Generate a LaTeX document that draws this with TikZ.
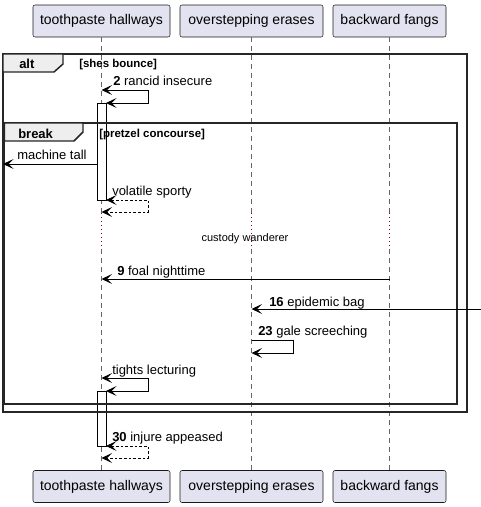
\documentclass[tikz,border=0pt]{standalone}
\usepackage{fontspec}
\setmainfont{Liberation Sans}
\usepackage{xcolor}
\usetikzlibrary{arrows.meta}

\definecolor{partfill}{RGB}{226,226,240}
\definecolor{tabfill}{RGB}{238,238,238}
\definecolor{delayred}{RGB}{130,0,60}

\begin{document}
\begin{tikzpicture}[x=0.75pt, y=-0.75pt,
    >={Stealth[length=8pt,width=7.5pt,inset=3.75pt]},
    part/.style={draw=black!90, fill=partfill, rounded corners=1.5pt, line width=0.4pt,
                 minimum height=24pt, inner sep=0pt, font=\fontsize{10.5}{12}\selectfont},
    life/.style={draw=black!60, line width=0.5pt, dash pattern=on 3.75pt off 3pt},
    delay/.style={draw=delayred, line width=0.7pt, dash pattern=on 0.75pt off 2.25pt},
    frame/.style={draw=black!85, line width=1.1pt},
    tab/.style={draw=black!85, fill=tabfill, line width=1.1pt},
    act/.style={draw=black, fill=white, line width=0.6pt},
    msg/.style={draw=black, line width=0.75pt},
    ret/.style={draw=black, line width=0.6pt, dash pattern=on 2pt off 1.5pt},
    lbl/.style={anchor=base west, inner sep=0pt, font=\fontsize{9.75}{11}\selectfont},
    hdr/.style={anchor=base west, inner sep=0pt, font=\fontsize{9.75}{11}\selectfont\bfseries},
    guard/.style={anchor=base west, inner sep=0pt, font=\fontsize{8.6}{10}\selectfont\bfseries},
    note/.style={anchor=base, inner sep=0pt, font=\fontsize{8.25}{10}\selectfont}]
  \useasboundingbox (0,0) rectangle (481,507);

  % participants
  \node[part, minimum width=102.75pt] (thTop) at (101.5,21) {toothpaste hallways};
  \node[part, minimum width=107.25pt] (ovTop) at (251.5,21) {overstepping erases};
  \node[part, minimum width=84.75pt] (bfTop) at (389.5,21) {backward fangs};
  \node[part, minimum width=102.75pt] (thBot) at (101.5,486.5) {toothpaste hallways};
  \node[part, minimum width=107.25pt] (ovBot) at (251.5,486.5) {overstepping erases};
  \node[part, minimum width=84.75pt] (bfBot) at (389.5,486.5) {backward fangs};

  % lifelines, with the delay
  \coordinate (thD1) at (101.5,213);
  \coordinate (thD2) at (101.5,249);
  \coordinate (ovD1) at (251.5,213);
  \coordinate (ovD2) at (251.5,249);
  \coordinate (bfD1) at (389.5,213);
  \coordinate (bfD2) at (389.5,249);
  \draw[life] (thTop) -- (thD1);
  \draw[delay] (thD1) -- (thD2);
  \draw[life] (thD2) -- (thBot);
  \draw[life] (ovTop) -- (ovD1);
  \draw[delay] (ovD1) -- (ovD2);
  \draw[life] (ovD2) -- (ovBot);
  \draw[life] (bfTop) -- (bfD1);
  \draw[delay] (bfD1) -- (bfD2);
  \draw[life] (bfD2) -- (bfBot);
  \node[note] (wait) at (245,241) {custody wanderer};

  % activations
  \node[act, minimum width=6.75pt, minimum height=72.75pt, inner sep=0pt] (actA) at (101.5,151.5) {};
  \node[act, minimum width=6.75pt, minimum height=41.25pt, inner sep=0pt] (actB) at (101.5,418.5) {};

  % alt and break
  \draw[frame] (3,54) rectangle (467,412);
  \draw[tab] (3,54) -- (63,54) -- (63,64) -- (54,72) -- (3,72) -- cycle;
  \node[hdr] (altHdr) at (19,68) {alt};
  \node[guard] (altGuard) at (79,67) {[shes bounce]};
  \draw[frame] (4.5,123) rectangle (457,404);
  \draw[tab] (4.5,123) -- (83,123) -- (83,132) -- (74,141) -- (4.5,141) -- cycle;
  \node[hdr] (brkHdr) at (18,138) {break};
  \node[guard] (brkGuard) at (99,137) {[pretzel concourse]};

  % messages
  \coordinate (s2a) at (101.5,90);
  \coordinate (s2b) at (106,103);
  \draw[msg, <->] (s2a) -- ++(47,0) |- (s2b);
  \node[lbl] (m2) at (113,85) {\textbf{2} rancid insecure};

  \coordinate (mtA) at (97,164);
  \coordinate (mtB) at (3,164);
  \draw[msg, ->] (mtA) -- (mtB);
  \node[lbl] (mMachine) at (17,159) {machine tall};

  \coordinate (vsA) at (106,200);
  \coordinate (vsB) at (101.5,212);
  \draw[ret, <->] (vsA) -- ++(42,0) |- (vsB);
  \node[lbl] (mVolatile) at (112,195) {volatile sporty};

  \coordinate (fnA) at (389.5,279);
  \coordinate (fnB) at (101.5,279);
  \draw[msg, ->] (fnA) -- (fnB);
  \node[lbl] (m9) at (117,275) {\textbf{9} foal nighttime};

  \coordinate (ebA) at (481,309);
  \coordinate (ebB) at (251.5,309);
  \draw[msg, ->] (ebA) -- (ebB);
  \node[lbl] (m16) at (269,306) {\textbf{16} epidemic bag};

  \coordinate (gsA) at (251.5,340);
  \coordinate (gsB) at (251.5,353);
  \draw[msg, ->] (gsA) -- ++(42,0) |- (gsB);
  \node[lbl] (m23) at (258,335) {\textbf{23} gale screeching};

  \coordinate (tlA) at (101.5,378);
  \coordinate (tlB) at (106,391);
  \draw[msg, <->] (tlA) -- ++(47,0) |- (tlB);
  \node[lbl] (mTights) at (112,374) {tights lecturing};

  \coordinate (iaA) at (106,446);
  \coordinate (iaB) at (101.5,458);
  \draw[ret, <->] (iaA) -- ++(42,0) |- (iaB);
  \node[lbl] (m30) at (112,441) {\textbf{30} injure appeased};
\end{tikzpicture}
\end{document}
